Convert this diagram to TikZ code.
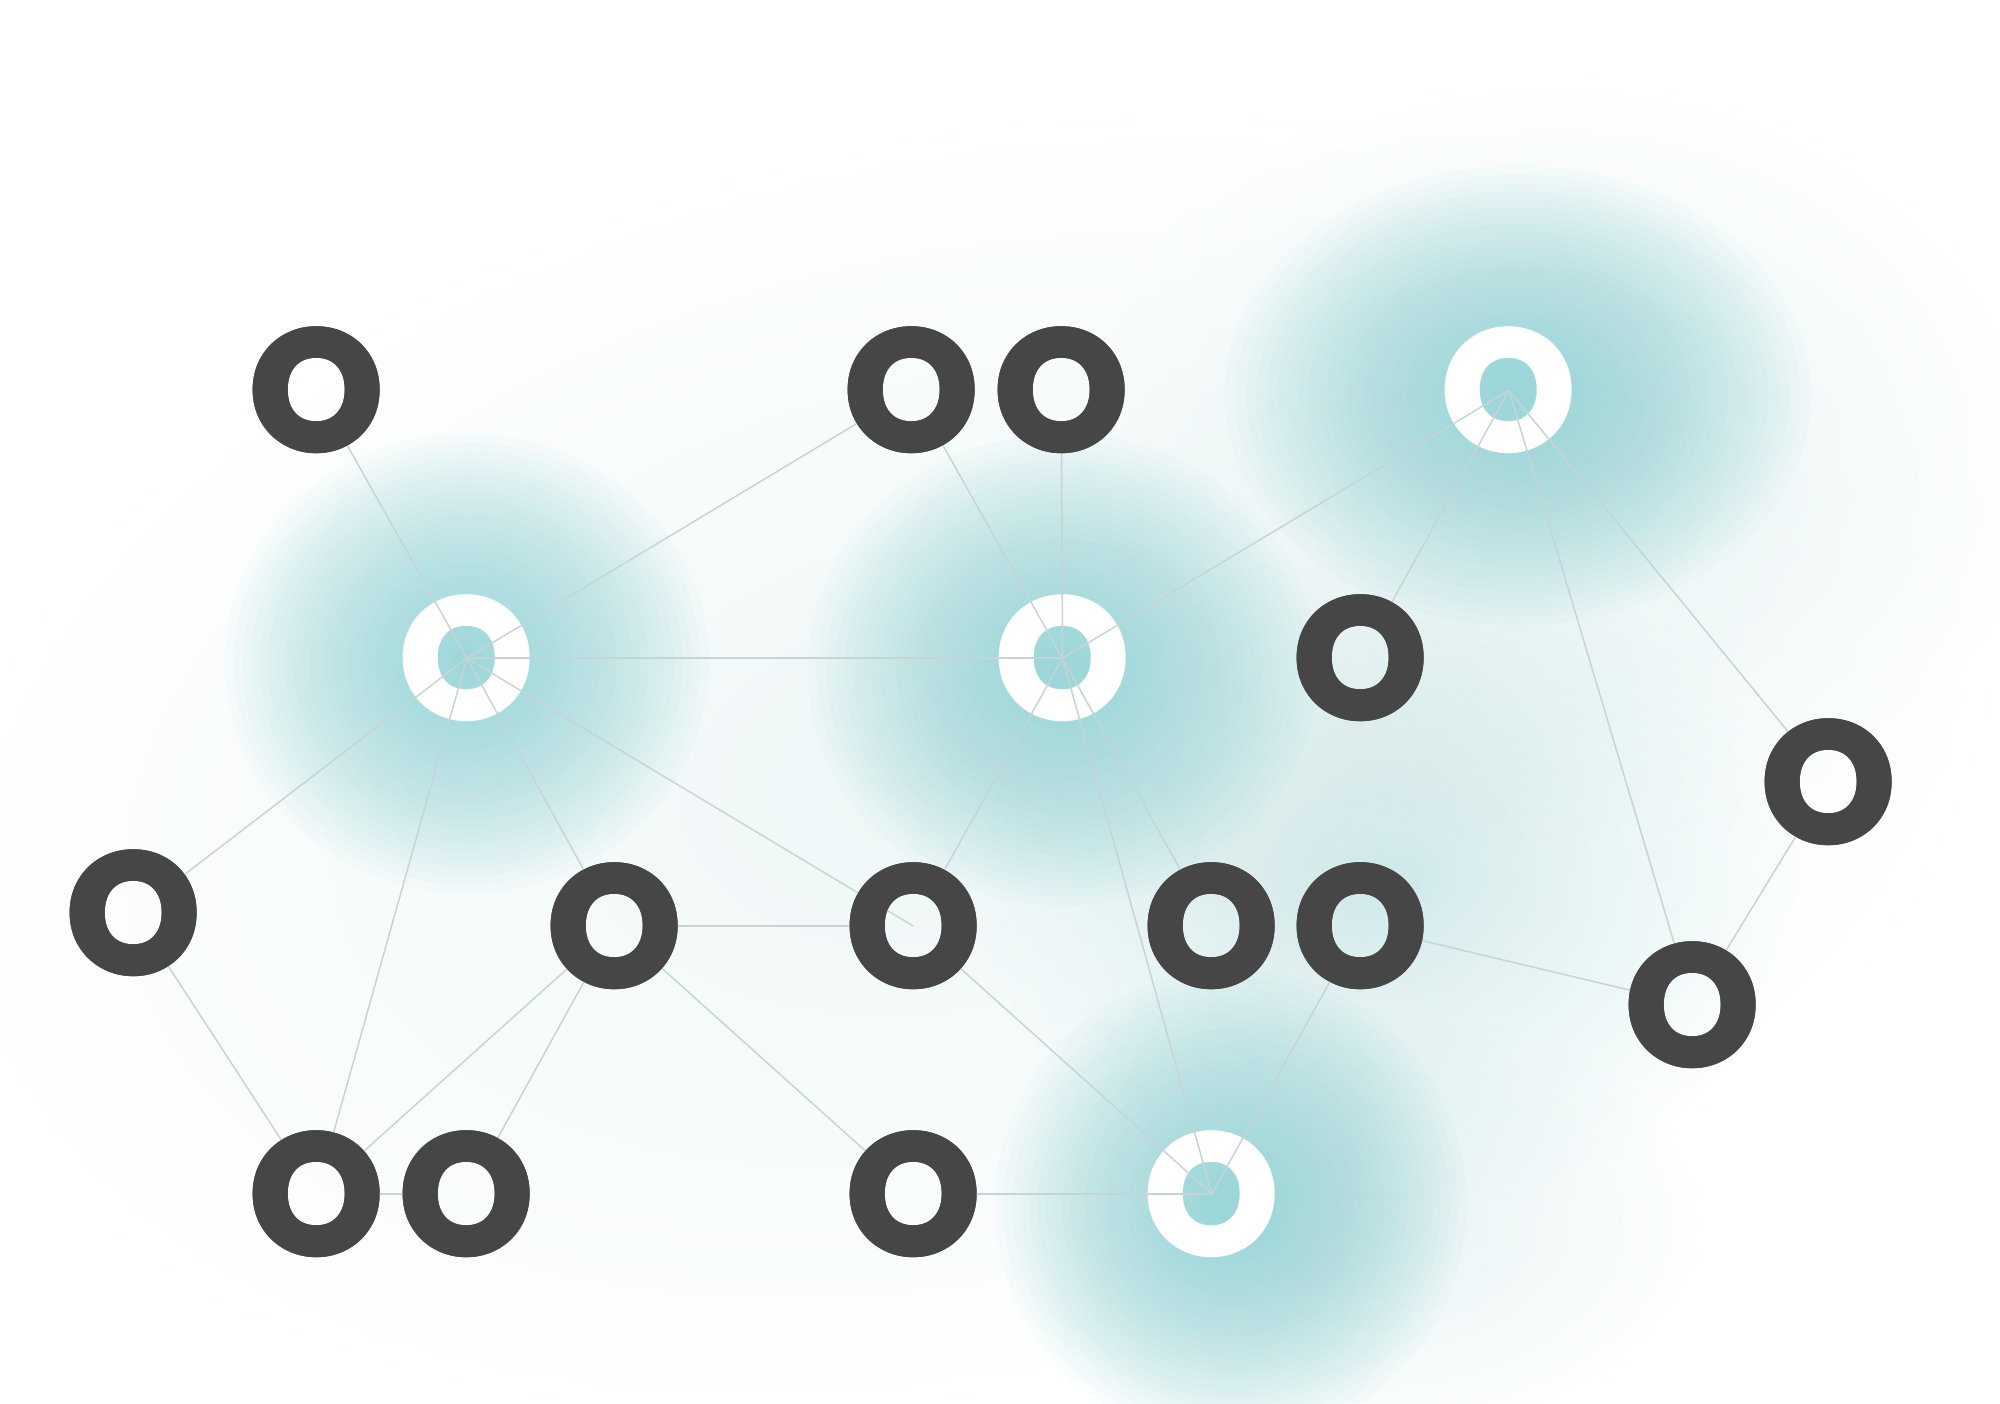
\documentclass[tikz,border=0pt]{standalone}
\usepackage{fontspec}
\newfontfamily\ofont{Poppins ExtraBold}
\definecolor{glowc}{RGB}{148,211,213}
\definecolor{palec}{RGB}{214,234,235}
\definecolor{darkc}{RGB}{70,70,70}
\definecolor{edgec}{RGB}{198,212,213}
% soft radial blob: centre x, y, radii rx, ry, colour, opacity per step
\newcommand\softblob[6]{%
  \foreach \k in {1,...,40}{%
    \pgfmathsetmacro\blobs{(\k/40)^1.5}%
    \fill[#5, fill opacity=#6] (#1,#2) ellipse ({#3*\blobs} and {#4*\blobs});}}
\tikzset{
  onode/.style={inner sep=0pt, font=\ofont\fontsize{50}{50}\selectfont},
  darko/.style={onode, text=darkc, shape=circle, outer sep=-8.7pt},
  whiteo/.style={onode, text=white},
  link/.style={draw=edgec, line width=0.42pt},
}
\begin{document}
\begin{tikzpicture}[x=0.012755cm, y=-0.012755cm]
\useasboundingbox (0,0) rectangle (1568,1100);
% background washes
\begin{scope}[rotate around={12:(760,600)}]
\softblob{760}{600}{820}{490}{palec}{0.017}
\end{scope}
\softblob{1220}{360}{380}{300}{palec}{0.02}
\softblob{1070}{960}{270}{170}{palec}{0.022}
\softblob{1090}{690}{320}{260}{glowc}{0.012}
% glows
\softblob{366}{520}{190}{180}{glowc}{0.055}
\softblob{833}{525}{200}{185}{glowc}{0.055}
\softblob{1190}{310}{230}{180}{glowc}{0.055}
\softblob{965}{945}{185}{185}{glowc}{0.055}
% white nodes
\node[whiteo] (n4) at (1183,306) {O};
\node[whiteo] (n5) at (366,516) {O};
\node[whiteo] (n6) at (833,516) {O};
\node[whiteo] (n18) at (950,936) {O};
% dark nodes
\node[darko] (n1) at (248,306) {O};
\node[darko] (n2) at (715,306) {O};
\node[darko] (n3) at (832,306) {O};
\node[darko] (n7) at (1067,516) {O};
\node[darko] (n8) at (1434,613) {O};
\node[darko] (n9) at (105,716) {O};
\node[darko] (n10) at (482,726) {O};
\node[darko] (n11) at (716,726) {O};
\node[darko] (n12) at (950,726) {O};
\node[darko] (n13) at (1067,726) {O};
\node[darko] (n14) at (1327,788) {O};
\node[darko] (n15) at (248,936) {O};
\node[darko] (n16) at (366,936) {O};
\node[darko] (n17) at (716,936) {O};
% links
\draw[link] (n1) -- (n5.center);
\draw[link] (n2) -- (n5.center);
\draw[link] (n2) -- (n6.center);
\draw[link] (n3) -- (n6.center);
\draw[link] (n4.center) -- (n6.center);
\draw[link] (n4.center) -- (n7);
\draw[link] (n4.center) -- (n8);
\draw[link] (n4.center) -- (n14);
\draw[link] (n5.center) -- (n6.center);
\draw[link] (n5.center) -- (n9);
\draw[link] (n5.center) -- (n10);
\draw[link] (n5.center) -- (n11.center);
\draw[link] (n5.center) -- (n15);
\draw[link] (n6.center) -- (n11);
\draw[link] (n6.center) -- (n12);
\draw[link] (n6.center) -- (n18.center);
\draw[link] (n10) -- (n11);
\draw[link] (n10) -- (n15);
\draw[link] (n10) -- (n16);
\draw[link] (n10) -- (n17);
\draw[link] (n11) -- (n18.center);
\draw[link] (n13) -- (n18.center);
\draw[link] (n13) -- (n14);
\draw[link] (n14) -- (n8);
\draw[link] (n9) -- (n15);
\draw[link] (n15) -- (n16);
\draw[link] (n17) -- (n18.center);
% redraw dark letters above the links
\foreach \n in {1,2,3,7,8,9,10,11,12,13,14,15,16,17}
  \node[onode, text=darkc] at (n\n.center) {O};
\end{tikzpicture}
\end{document}
